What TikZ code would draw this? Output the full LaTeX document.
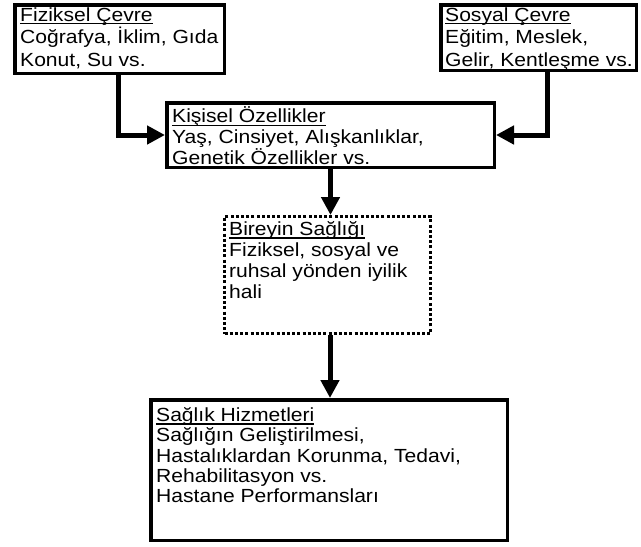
\documentclass[tikz,border=0pt]{standalone}
\usepackage{fontspec}
\setmainfont{Liberation Sans}[FakeStretch=1.11]
\newsavebox\myulbox
\newcommand{\myul}[1]{\sbox\myulbox{#1}\rlap{\rule[-3.2pt]{\wd\myulbox}{1.5pt}}\usebox\myulbox}
\usetikzlibrary{arrows.meta}
\tikzset{
  boxnode/.style={draw, line width=3.5pt, inner sep=0pt, fill=white},
  dotbox/.style={draw, line width=3pt, dash pattern=on 3pt off 2.2pt, inner sep=0pt, fill=white},
  boxtext/.style={anchor=north west, inner sep=0pt, align=left,
    font=\fontsize{19}{#1}\selectfont, execute at begin node=\strut},
  boxtext/.default=21,
  conn/.style={line width=5pt, -{Triangle[length=18pt 0, width=18pt 0]}}
}
\begin{document}
\begin{tikzpicture}[x=1pt, y=-1pt]
\useasboundingbox[fill=white] (0,0) rectangle (641,547);
% boxes
\node[boxnode, minimum width=209.5pt, minimum height=68.5pt] (b1) at (119.5,39) {};
\node[boxnode, minimum width=195.5pt, minimum height=65.5pt] (b2) at (538.5,37.5) {};
\node[boxnode, minimum width=327.5pt, minimum height=64.5pt] (k) at (330.5,135) {};
\node[dotbox, minimum width=206pt, minimum height=117pt] (d) at (327.5,275) {};
\node[boxnode, minimum width=356.5pt, minimum height=140.5pt] (s) at (329,470) {};
% texts
\node[boxtext=22.5] (t1) at (20,7.25) {\myul{Fiziksel Çevre}\\Coğrafya, İklim, Gıda\\Konut, Su vs.};
\node[boxtext=22.5] (t2) at (445,7.25) {\myul{Sosyal Çevre}\\Eğitim, Meslek,\\Gelir, Kentleşme vs.};
\node[boxtext=21] (tk) at (172,106.8) {\myul{Kişisel Özellikler}\\Yaş, Cinsiyet, Alışkanlıklar,\\Genetik Özellikler vs.};
\node[boxtext=21] (td) at (229,221.3) {\myul{Bireyin Sağlığı}\\Fiziksel, sosyal ve\\ruhsal yönden iyilik\\hali};
\node[boxtext=20.3] (ts) at (156,407.3) {\myul{Sağlık Hizmetleri}\\Sağlığın Geliştirilmesi,\\Hastalıklardan Korunma, Tedavi,\\Rehabilitasyon vs.\\Hastane Performansları};
% connectors
\draw[conn] ([xshift=-1.5pt]b1.south) |- (k.west);
\draw[conn] ([xshift=8.5pt]b2.south) |- (k.east);
\draw[conn] (k.south) -- (k.south |- d.north);
\draw[conn] ([xshift=2.5pt]d.south) -- ([xshift=2.5pt]d.south |- s.north);
\end{tikzpicture}
\end{document}
